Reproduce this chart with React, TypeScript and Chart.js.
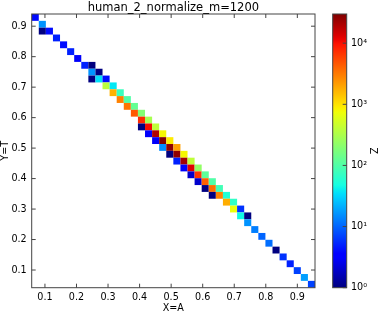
import React, { useEffect, useRef } from 'react';
import { Chart, registerables } from 'chart.js';

Chart.register(...registerables);

// Axis ranges and binning (40 x 40 histogram)
const X_MIN = 0.058;
const X_MAX = 0.956;
const Y_MIN = 0.042;
const Y_MAX = 0.94;
const N_BINS = 40;
const Z_MIN = 1;
const Z_MAX = 30000;

const xTicks = [0.1, 0.2, 0.3, 0.4, 0.5, 0.6, 0.7, 0.8, 0.9];
const yTicks = [0.1, 0.2, 0.3, 0.4, 0.5, 0.6, 0.7, 0.8, 0.9];
const zTicks = [1, 10, 100, 1000, 10000];
const zTickLabels = ['10⁰', '10¹', '10²', '10³', '10⁴'];

// Occupied histogram cells: column index (from left), row index (from bottom), count
const cellXBin = [
  0, 1, 1, 2, 3, 4, 5, 6, 7, 8, 8, 8, 9, 9, 10, 10, 11, 11, 12, 12,
  13, 13, 14, 14, 15, 15, 15, 16, 16, 16, 17, 17, 17, 18, 18, 18, 19, 19, 19, 20,
  20, 20, 21, 21, 21, 22, 22, 22, 23, 23, 23, 24, 24, 24, 25, 25, 25, 26, 26, 27,
  27, 28, 28, 29, 29, 30, 30, 31, 32, 33, 34, 35, 36, 37, 38, 39,
];
const cellYBin = [
  39, 38, 37, 37, 36, 35, 34, 33, 32, 32, 31, 30, 31, 30, 30, 29, 29, 28, 28, 27,
  27, 26, 26, 25, 25, 24, 23, 24, 23, 22, 23, 22, 21, 22, 21, 20, 21, 20, 19, 20,
  19, 18, 19, 18, 17, 18, 17, 16, 17, 16, 15, 16, 15, 14, 15, 14, 13, 14, 13, 13,
  12, 12, 11, 11, 10, 10, 9, 8, 7, 6, 5, 4, 3, 2, 1, 0,
];
const cellCount = [
  4, 16, 1, 4, 5, 4, 5, 3, 5, 1, 16, 1, 1, 35, 4, 380, 38, 1700, 75, 2900,
  100, 3300, 130, 4500, 190, 7500, 1, 300, 10500, 3, 400, 19500, 3, 800, 30000, 15, 900, 26000, 1, 2100,
  26000, 5, 800, 22000, 3, 400, 12700, 2, 230, 6500, 2, 120, 4200, 1, 100, 3500, 1, 83, 2900, 56,
  1800, 67, 700, 6, 45, 1, 16, 13, 10, 11, 1, 6, 5, 7, 18, 7,
];

const FONT = 'DejaVu Sans';
const FRAME = '#444';

// matplotlib "jet" colormap segments
const JR = [[0, 0], [0.35, 0], [0.66, 1], [0.89, 1], [1, 0.5]];
const JG = [[0, 0], [0.125, 0], [0.375, 1], [0.64, 1], [0.91, 0], [1, 0]];
const JB = [[0, 0.5], [0.11, 1], [0.34, 1], [0.65, 0], [1, 0]];

function seg(pts: number[][], t: number): number {
  for (let i = 1; i < pts.length; i++) {
    if (t <= pts[i][0]) {
      const [x0, y0] = pts[i - 1];
      const [x1, y1] = pts[i];
      return y0 + ((y1 - y0) * (t - x0)) / (x1 - x0);
    }
  }
  return pts[pts.length - 1][1];
}

function jet(t: number): string {
  const c = Math.max(0, Math.min(1, t));
  const r = Math.round(seg(JR, c) * 255);
  const g = Math.round(seg(JG, c) * 255);
  const b = Math.round(seg(JB, c) * 255);
  return `rgb(${r},${g},${b})`;
}

function norm(v: number): number {
  return (Math.log10(v) - Math.log10(Z_MIN)) / (Math.log10(Z_MAX) - Math.log10(Z_MIN));
}

const dx = (X_MAX - X_MIN) / N_BINS;
const dy = (Y_MAX - Y_MIN) / N_BINS;

const heatPlugin = {
  id: 'heatmap',
  beforeDatasetsDraw(chart: any) {
    const { ctx, chartArea, scales } = chart;
    const xs = scales.x;
    const ys = scales.y;
    ctx.save();
    ctx.beginPath();
    ctx.rect(chartArea.left, chartArea.top, chartArea.right - chartArea.left, chartArea.bottom - chartArea.top);
    ctx.clip();
    const pts = chart.data.datasets[0].data;
    for (const p of pts) {
      const x0 = xs.getPixelForValue(p.x - dx / 2);
      const x1 = xs.getPixelForValue(p.x + dx / 2);
      const y0 = ys.getPixelForValue(p.y + dy / 2);
      const y1 = ys.getPixelForValue(p.y - dy / 2);
      ctx.fillStyle = jet(norm(p.count));
      ctx.fillRect(x0, y0, x1 - x0, y1 - y0);
    }
    ctx.restore();
  },
  afterDraw(chart: any) {
    const { ctx, chartArea, scales } = chart;
    const { left, right, top, bottom } = chartArea;
    const xs = scales.x;
    const ys = scales.y;
    const zs = scales.z;
    ctx.save();
    // frame
    ctx.strokeStyle = FRAME;
    ctx.lineWidth = 1;
    ctx.strokeRect(left, top, right - left, bottom - top);
    // inward ticks on all sides
    ctx.beginPath();
    for (const v of xTicks) {
      const px = xs.getPixelForValue(v);
      ctx.moveTo(px, bottom);
      ctx.lineTo(px, bottom - 4);
      ctx.moveTo(px, top);
      ctx.lineTo(px, top + 4);
    }
    for (const v of yTicks) {
      const py = ys.getPixelForValue(v);
      ctx.moveTo(left, py);
      ctx.lineTo(left + 4, py);
      ctx.moveTo(right, py);
      ctx.lineTo(right - 4, py);
    }
    ctx.stroke();

    // colorbar
    const cbL = right + 17.7;
    const cbW = 14;
    const zTop = zs.getPixelForValue(Z_MAX);
    const zBot = zs.getPixelForValue(Z_MIN);
    const grad = ctx.createLinearGradient(0, zBot, 0, zTop);
    for (let i = 0; i <= 64; i++) grad.addColorStop(i / 64, jet(i / 64));
    ctx.fillStyle = grad;
    ctx.fillRect(cbL, zTop, cbW, zBot - zTop);
    ctx.strokeStyle = FRAME;
    ctx.strokeRect(cbL, zTop, cbW, zBot - zTop);
    ctx.beginPath();
    for (const v of zTicks) {
      const py = zs.getPixelForValue(v);
      ctx.moveTo(cbL + cbW, py);
      ctx.lineTo(cbL + cbW - 4, py);
    }
    ctx.stroke();

    // title
    ctx.fillStyle = '#000';
    ctx.font = `11.5px "${FONT}"`;
    ctx.textAlign = 'center';
    ctx.textBaseline = 'alphabetic';
    ctx.fillText('human_2_normalize_m=1200', (left + right) / 2, 10.5);
    ctx.restore();
  },
};

function zeroPad(scale: any) {
  scale.paddingTop = 0;
  scale.paddingBottom = 0;
  scale.paddingLeft = 0;
  scale.paddingRight = 0;
}

export default function App() {
  const ref = useRef<HTMLCanvasElement | null>(null);

  useEffect(() => {
    if (!ref.current) return;
    const data = cellXBin.map((xb, i) => ({
      x: X_MIN + (xb + 0.5) * dx,
      y: Y_MIN + (cellYBin[i] + 0.5) * dy,
      count: cellCount[i],
    }));
    const tickFont = { family: FONT, size: 9.6 };
    const chart = new Chart(ref.current, {
      type: 'scatter',
      data: {
        datasets: [
          {
            data,
            pointRadius: 0,
            pointHoverRadius: 0,
            showLine: false,
          } as any,
        ],
      },
      options: {
        animation: false,
        responsive: false,
        devicePixelRatio: 1,
        events: [],
        layout: { padding: { top: 14, left: 0, right: 0, bottom: 0 } },
        plugins: { legend: { display: false }, tooltip: { enabled: false }, title: { display: false } },
        scales: {
          x: {
            type: 'linear',
            position: 'bottom',
            min: X_MIN,
            max: X_MAX,
            afterBuildTicks: (s: any) => {
              s.ticks = xTicks.map((v) => ({ value: v }));
            },
            afterFit: (s: any) => {
              s.height = 26.3;
              zeroPad(s);
            },
            grid: { display: false, drawTicks: false },
            border: { display: false },
            ticks: {
              autoSkip: false,
              maxRotation: 0,
              padding: 4,
              color: '#000',
              font: tickFont,
              callback: (v: any) => Number(v).toFixed(1),
            },
            title: { display: true, text: 'X=A', color: '#000', font: tickFont, padding: 0 },
          },
          y: {
            type: 'linear',
            position: 'left',
            min: Y_MIN,
            max: Y_MAX,
            afterBuildTicks: (s: any) => {
              s.ticks = yTicks.map((v) => ({ value: v }));
            },
            afterFit: (s: any) => {
              s.width = 31.7;
              zeroPad(s);
            },
            grid: { display: false, drawTicks: false },
            border: { display: false },
            ticks: {
              autoSkip: false,
              padding: 5,
              color: '#000',
              font: tickFont,
              callback: (v: any) => Number(v).toFixed(1),
            },
            title: { display: true, text: 'Y=T', color: '#000', font: tickFont, padding: 0 },
          },
          z: {
            type: 'logarithmic',
            position: 'right',
            min: Z_MIN,
            max: Z_MAX,
            afterBuildTicks: (s: any) => {
              s.ticks = zTicks.map((v) => ({ value: v }));
            },
            afterFit: (s: any) => {
              s.width = 63;
              zeroPad(s);
            },
            grid: { display: false, drawTicks: false },
            border: { display: false },
            ticks: {
              autoSkip: false,
              padding: 36,
              color: '#000',
              font: tickFont,
              callback: (_v: any, i: number) => zTickLabels[i],
            },
            title: { display: true, text: 'Z', color: '#000', font: tickFont, padding: 0 },
          },
        },
      } as any,
      plugins: [heatPlugin],
    });
    return () => chart.destroy();
  }, []);

  return (
    <div style={{ position: 'fixed', left: 0, top: 0, width: 378, height: 314, background: '#fff' }}>
      <canvas ref={ref} width={378} height={314} style={{ display: 'block' }} />
    </div>
  );
}
